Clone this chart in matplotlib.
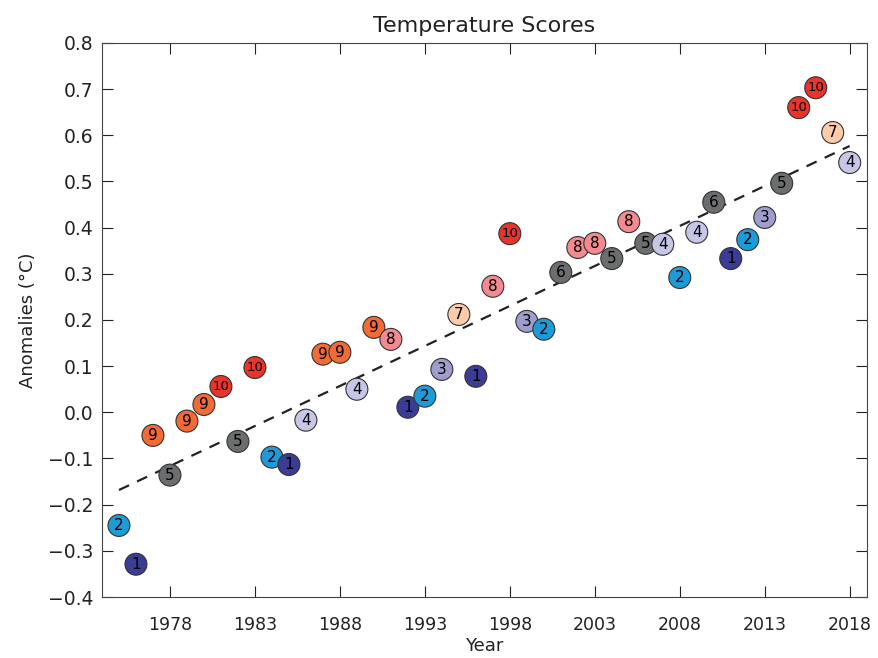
import numpy as np
import matplotlib
matplotlib.use("Agg")
import matplotlib.pyplot as plt

years = list(range(1975, 2019))
anomalies = [-0.245, -0.329, -0.050, -0.136, -0.019, 0.017, 0.056, -0.063, 0.097, -0.097,
             -0.113, -0.017, 0.126, 0.130, 0.050, 0.184, 0.158, 0.011, 0.035, 0.093,
             0.212, 0.078, 0.273, 0.387, 0.197, 0.180, 0.303, 0.357, 0.366, 0.333,
             0.413, 0.366, 0.364, 0.292, 0.390, 0.455, 0.333, 0.374, 0.422, 0.496,
             0.660, 0.703, 0.606, 0.541]
scores = [2, 1, 9, 5, 9, 9, 10, 5, 10, 2,
          1, 4, 9, 9, 4, 9, 8, 1, 2, 3,
          7, 1, 8, 10, 3, 2, 6, 8, 8, 5,
          8, 5, 4, 2, 4, 6, 1, 2, 3, 5,
          10, 10, 7, 4]
score_colors = {1: "#3b3c95", 2: "#1e9bd7", 3: "#9f9dcc", 4: "#c6c7e7", 5: "#6b6d6e",
                6: "#6b6d6e", 7: "#fccbab", 8: "#f28a90", 9: "#f26b36", 10: "#e9342a"}
xticks = [1978, 1983, 1988, 1993, 1998, 2003, 2008, 2013, 2018]
yticks = [-0.4, -0.3, -0.2, -0.1, 0.0, 0.1, 0.2, 0.3, 0.4, 0.5, 0.6, 0.7, 0.8]

plt.rcParams['font.family'] = ['DejaVu Sans']
fig = plt.figure(figsize=(8.79, 6.58), dpi=100)
ax = fig.add_axes([0.116, 0.0927, 0.870, 0.842])

x = np.array(years)
y = np.array(anomalies)
coef = np.polyfit(x, y, 1)
ax.plot(x, np.polyval(coef, x), linestyle=(0, (5, 4)), color="#222222", lw=1.6, zorder=1)

cols = [score_colors[s] for s in scores]
ax.scatter(x, y, s=250, c=cols, edgecolors="#333333", linewidths=0.8, zorder=2)
for xi, yi, s in zip(x, y, scores):
    ax.text(xi, yi, str(s), ha="center", va="center", fontsize=11 if s < 10 else 9.5,
            color="black", zorder=3)

ax.set_xlim(1974, 2019)
ax.set_ylim(-0.4, 0.8)
ax.set_xticks(xticks)
ax.set_xticklabels([str(t) for t in xticks])
ax.set_yticks(yticks)
ax.set_yticklabels([f"{t:.1f}".replace("-", "\u2212") for t in yticks])
ax.tick_params(direction="in", length=8, width=0.8, top=True, right=True,
               labeltop=False, labelright=False, colors="#222222")
ax.tick_params(axis="x", labelsize=12.5, pad=14)
ax.tick_params(axis="y", labelsize=13.5, pad=6)
for sp in ax.spines.values():
    sp.set_linewidth(0.8)
    sp.set_color("#444444")

ax.set_title("Temperature Scores", fontsize=16, pad=8, color="#222222")
ax.set_xlabel("Year", fontsize=13, labelpad=2, color="#222222")
ax.set_ylabel("Anomalies (\u00b0C)", fontsize=13, labelpad=8, color="#222222")

fig.savefig("out.png", dpi=100)
